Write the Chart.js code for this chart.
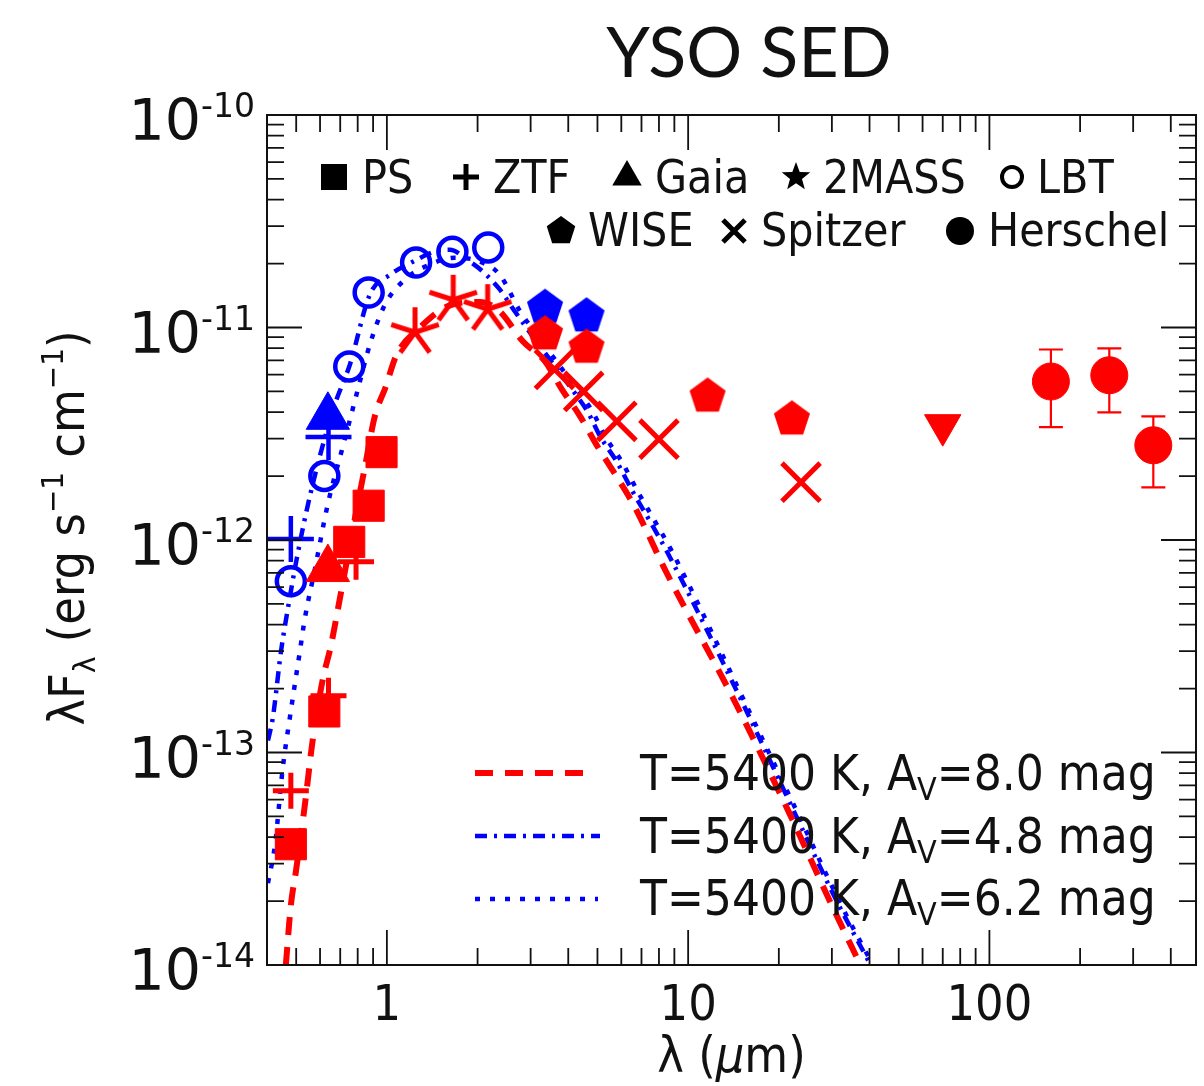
<!DOCTYPE html>
<html>
<head>
<meta charset="utf-8">
<script src="https://cdn.jsdelivr.net/npm/chart.js@4.4.0/dist/chart.umd.min.js"></script>
<style>
  html, body { margin: 0; padding: 0; background: #fff; overflow: hidden; }
  canvas { display: block; }
</style>
</head>
<body>
<canvas id="sedChart" width="1204" height="1086"></canvas>
<script>
/* ===============
   YSO SED DATA
   =============== */
// wavelengths in micron, lambda*F_lambda in erg s-1 cm-1 (as on the axis)
const psWave = [0.48, 0.62, 0.75, 0.87, 0.96];
const psFlux = [3.7e-14, 1.56e-13, 9.8e-13, 1.45e-12, 2.59e-12];

const ztfRedWave = [0.48, 0.64, 0.79];
const ztfRedFlux = [6.6e-14, 1.85e-13, 7.9e-13];
const ztfBlueWave = [0.48, 0.64];
const ztfBlueFlux = [1.01e-12, 3.05e-12];

const gaiaRedWave = [0.637];
const gaiaRedFlux = [7.3e-13];
const gaiaBlueWave = [0.637];
const gaiaBlueFlux = [3.8e-12];

const lbtWave = [0.48, 0.62, 0.75, 0.87, 1.25, 1.65, 2.17];
const lbtFlux = [6.4e-13, 2.0e-12, 6.56e-12, 1.46e-11, 2.02e-11, 2.27e-11, 2.38e-11];

const tmassWave = [1.24, 1.66, 2.16];
const tmassFlux = [9.5e-12, 1.35e-11, 1.22e-11];

const wiseRedWave = [3.35, 4.6, 11.6, 22.1];
const wiseRedFlux = [9.3e-12, 8.05e-12, 4.74e-12, 3.7e-12];
const wiseBlueWave = [3.35, 4.6];
const wiseBlueFlux = [1.24e-11, 1.13e-11];

const spitzerWave = [3.6, 4.5, 5.8, 8.0, 23.7];
const spitzerFlux = [6.35e-12, 5.0e-12, 3.62e-12, 2.98e-12, 1.87e-12];

const pacsLimitWave = [70];
const pacsLimitFlux = [3.47e-12];

const herschelWave = [160, 250, 350];
const herschelFlux = [5.57e-12, 5.96e-12, 2.79e-12];
const herschelHigh = [7.88e-12, 7.97e-12, 3.82e-12];
const herschelLow = [3.4e-12, 3.99e-12, 1.77e-12];

// photosphere models, T=5400 K
const modelAv80Wave = [0.462, 0.480, 0.499, 0.534, 0.568, 0.613, 0.652, 0.688, 0.725, 0.783, 0.845, 0.912, 0.992, 1.071, 1.287, 1.619, 2.037, 2.37, 2.83, 3.35, 3.81, 4.38, 5.02, 5.72, 6.51, 7.31, 8.26, 14.1, 21.3, 30.3, 36.7];
const modelAv80Flux = [1.0e-14, 1.91e-14, 2.76e-14, 5.64e-14, 1.16e-13, 2.22e-13, 3.18e-13, 4.74e-13, 7.08e-13, 1.26e-12, 2.20e-12, 3.82e-12, 5.28e-12, 7.31e-12, 1.0e-11, 1.27e-11, 1.32e-11, 1.19e-11, 8.59e-12, 6.92e-12, 5.11e-12, 3.82e-12, 2.73e-12, 2.04e-12, 1.51e-12, 1.09e-12, 7.55e-13, 1.80e-13, 5.46e-14, 1.85e-14, 1.05e-14];

const modelAv48Wave = [0.403, 0.418, 0.445, 0.469, 0.502, 0.546, 0.599, 0.672, 0.754, 0.878, 1.023, 1.22, 1.444, 1.619, 1.858, 2.084, 2.37, 2.66, 3.05, 3.53, 4.12, 4.65, 5.10, 5.81, 6.56, 7.48, 8.51, 14.9, 21.8, 30.8, 39.6];
const modelAv48Flux = [1.14e-13, 1.45e-13, 2.98e-13, 4.74e-13, 8.15e-13, 1.45e-12, 2.48e-12, 4.35e-12, 6.70e-12, 1.43e-11, 1.77e-11, 2.04e-11, 2.28e-11, 2.32e-11, 2.07e-11, 1.83e-11, 1.51e-11, 1.19e-11, 9.08e-12, 6.86e-12, 5.11e-12, 3.99e-12, 3.08e-12, 2.32e-12, 1.68e-12, 1.22e-12, 8.80e-13, 1.80e-13, 5.77e-14, 2.06e-14, 1.05e-14];

const modelAv62Wave = [0.403, 0.425, 0.451, 0.476, 0.514, 0.534, 0.577, 0.637, 0.725, 0.801, 0.878, 0.985, 1.148, 1.39, 1.68, 2.04, 2.37, 2.77, 3.18, 3.67, 4.28, 4.83, 5.30, 6.04, 6.82, 7.77, 8.85, 15.5, 22.7, 32.0, 40.3];
const modelAv62Flux = [2.43e-14, 3.66e-14, 8.41e-14, 1.45e-13, 2.98e-13, 4.26e-13, 7.31e-13, 1.48e-12, 2.98e-12, 5.11e-12, 8.32e-12, 1.28e-11, 1.68e-11, 1.98e-11, 2.13e-11, 2.04e-11, 1.77e-11, 1.19e-11, 9.08e-12, 6.86e-12, 5.11e-12, 3.99e-12, 3.08e-12, 2.32e-12, 1.68e-12, 1.22e-12, 8.80e-13, 1.70e-13, 5.46e-14, 1.95e-14, 1.05e-14];

const modelLabels = ['8.0', '4.8', '6.2'];

// axis ticks
const xMajorTicks = [1, 10, 100];
const xTickLabels = ['1', '10', '100'];
const yMajorTicks = [1e-14, 1e-13, 1e-12, 1e-11, 1e-10];
const yTickExps = ['-14', '-13', '-12', '-11', '-10'];

const RED = '#ff0000';
const BLUE = '#0000ff';
const INK = '#111111';

function pts(xs, ys) {
    return xs.map((x, i) => ({ x: x, y: ys[i] }));
}

/* ===============
   MARKER SHAPES
   =============== */
function drawShape(g, kind, x, y, r, color, lw) {
    g.save();
    g.fillStyle = color;
    g.strokeStyle = color;
    g.lineWidth = lw || 1;
    g.lineCap = 'butt';
    g.beginPath();
    if (kind === 'square') {
        g.rect(x - r, y - r, 2 * r, 2 * r);
        g.fill();
    } else if (kind === 'plus') {
        g.moveTo(x - r, y); g.lineTo(x + r, y);
        g.moveTo(x, y - r); g.lineTo(x, y + r);
        g.stroke();
    } else if (kind === 'x') {
        g.moveTo(x - r, y - r); g.lineTo(x + r, y + r);
        g.moveTo(x - r, y + r); g.lineTo(x + r, y - r);
        g.stroke();
    } else if (kind === 'triangle') {
        for (let i = 0; i < 3; i++) {
            const a = -Math.PI / 2 + i * 2 * Math.PI / 3;
            g.lineTo(x + r * Math.cos(a), y + r * Math.sin(a));
        }
        g.closePath(); g.fill();
    } else if (kind === 'pentagon') {
        for (let i = 0; i < 5; i++) {
            const a = -Math.PI / 2 + i * 2 * Math.PI / 5;
            g.lineTo(x + r * Math.cos(a), y + r * Math.sin(a));
        }
        g.closePath(); g.fill();
    } else if (kind === 'star') {
        for (let i = 0; i < 10; i++) {
            const a = -Math.PI / 2 + i * Math.PI / 5;
            const rr = i % 2 === 0 ? r : r * 0.42;
            g.lineTo(x + rr * Math.cos(a), y + rr * Math.sin(a));
        }
        g.closePath(); g.fill();
    } else if (kind === 'asterisk') {
        for (let i = 0; i < 5; i++) {
            const a = -Math.PI / 2 + i * 2 * Math.PI / 5;
            g.moveTo(x, y);
            g.lineTo(x + r * Math.cos(a), y + r * Math.sin(a));
        }
        g.stroke();
    } else if (kind === 'circleOpen') {
        g.arc(x, y, r, 0, Math.PI * 2);
        g.stroke();
    } else if (kind === 'circle') {
        g.arc(x, y, r, 0, Math.PI * 2);
        g.fill();
    }
    g.restore();
}

function makeMarker(kind, color, r, lw) {
    const s = Math.ceil(2 * r + 2 * (lw || 1) + 4);
    const c = document.createElement('canvas');
    c.width = s; c.height = s;
    drawShape(c.getContext('2d'), kind, s / 2, s / 2, r, color, lw);
    return c;
}

const pentRed = makeMarker('pentagon', RED, 19);
const pentBlue = makeMarker('pentagon', BLUE, 19);
const asteriskRed = makeMarker('asterisk', RED, 25, 5);

/* ===============
   TEXT HELPERS
   =============== */
const FONT_C = '"DejaVu Sans Condensed", "DejaVu Sans", sans-serif';
const FONT_N = '"DejaVu Sans", sans-serif';

// parts: [{t, s (size factor), dy (em), it}]
function richWidth(g, parts, size, family) {
    let w = 0;
    parts.forEach(p => {
        g.font = (p.it ? 'italic ' : '') + Math.round(size * (p.s || 1)) + 'px ' + family;
        w += g.measureText(p.t).width;
    });
    return w;
}
function drawRich(g, parts, x, y, size, family) {
    let cx = x;
    parts.forEach(p => {
        g.font = (p.it ? 'italic ' : '') + Math.round(size * (p.s || 1)) + 'px ' + family;
        g.fillText(p.t, cx, y + (p.dy || 0) * size);
        cx += g.measureText(p.t).width;
    });
    return cx - x;
}

/* ===============
   PLUGINS
   =============== */
const errorBars = {
    id: 'errorBars',
    beforeDatasetsDraw(chart) {
        const g = chart.ctx;
        const xs = chart.scales.x, ys = chart.scales.y;
        g.save();
        g.strokeStyle = RED;
        g.lineWidth = 2.2;
        herschelWave.forEach((w, i) => {
            const px = xs.getPixelForValue(w);
            const top = ys.getPixelForValue(herschelHigh[i]);
            const bot = ys.getPixelForValue(herschelLow[i]);
            g.beginPath();
            g.moveTo(px, top); g.lineTo(px, bot);
            g.moveTo(px - 12, top); g.lineTo(px + 12, top);
            g.moveTo(px - 12, bot); g.lineTo(px + 12, bot);
            g.stroke();
        });
        g.restore();
    }
};

const frame = {
    id: 'frame',
    afterDraw(chart) {
        const g = chart.ctx;
        const a = chart.chartArea;
        const xs = chart.scales.x, ys = chart.scales.y;
        g.save();

        // box
        g.strokeStyle = INK;
        g.lineWidth = 2;
        g.strokeRect(a.left, a.top, a.right - a.left, a.bottom - a.top);

        // inward ticks on all four sides
        const MAJ = 35, MIN = 17;
        g.lineWidth = 1.8;
        g.beginPath();
        const xDec = [0.1, 1, 10, 100];
        xDec.forEach(d => {
            for (let k = 1; k <= 9; k++) {
                const v = d * k;
                if (v < xs.min || v > xs.max) continue;
                const px = xs.getPixelForValue(v);
                const len = k === 1 ? MAJ : MIN;
                g.moveTo(px, a.bottom); g.lineTo(px, a.bottom - len);
                g.moveTo(px, a.top); g.lineTo(px, a.top + len);
            }
        });
        yMajorTicks.forEach(d => {
            for (let k = 1; k <= 9; k++) {
                const v = d * k;
                if (v > ys.max * 1.0001) continue;
                const py = ys.getPixelForValue(v);
                const len = k === 1 ? MAJ : MIN;
                g.moveTo(a.left, py); g.lineTo(a.left + len, py);
                g.moveTo(a.right, py); g.lineTo(a.right - len, py);
            }
        });
        g.stroke();

        g.fillStyle = INK;
        // x tick labels
        g.textAlign = 'center';
        g.textBaseline = 'alphabetic';
        g.font = '50px ' + FONT_C;
        xMajorTicks.forEach((v, i) => {
            g.fillText(xTickLabels[i], xs.getPixelForValue(v), 1020);
        });

        // y tick labels 10^n
        g.textAlign = 'left';
        yMajorTicks.forEach((v, i) => {
            const py = ys.getPixelForValue(v);
            const parts = [{ t: '10', s: 1, dy: 0 }, { t: yTickExps[i], s: 0.58, dy: -0.4 }];
            const w = richWidth(g, parts, 57, FONT_N);
            drawRich(g, parts, a.left - 12 - w, py + 25, 57, FONT_N);
        });

        // axis titles
        const xt = [{ t: 'λ (', s: 1 }, { t: 'μ', s: 1, it: true }, { t: 'm)', s: 1 }];
        const xw = richWidth(g, xt, 50, FONT_C);
        drawRich(g, xt, (a.left + a.right) / 2 - xw / 2, 1072, 50, FONT_C);

        const yt = [
            { t: 'λF', s: 1 }, { t: 'λ', s: 0.62, dy: 0.22 },
            { t: ' (erg s', s: 1 }, { t: '−1', s: 0.62, dy: -0.42 },
            { t: ' cm', s: 1 }, { t: '−1', s: 0.62, dy: -0.42 }, { t: ')', s: 1 }
        ];
        g.save();
        g.translate(84, 528);
        g.rotate(-Math.PI / 2);
        const yw = richWidth(g, yt, 50, FONT_C);
        drawRich(g, yt, -yw / 2, 0, 50, FONT_C);
        g.restore();

        // title
        g.textAlign = 'center';
        g.font = '70px Lato, "Open Sans", sans-serif';
        g.fillText('YSO SED', 749, 77);

        // instrument legend (black symbols)
        g.textAlign = 'left';
        const legRows = [
            { y: 177, base: 193, items: [
                ['square', 334, 13, 0, 'PS', 362],
                ['plus', 466, 13, 5, 'ZTF', 493],
                ['triangle', 627, 17, 0, 'Gaia', 655],
                ['star', 796, 15, 0, '2MASS', 823],
                ['circleOpen', 1012, 10, 4, 'LBT', 1037]] },
            { y: 231, base: 246, items: [
                ['pentagon', 561, 15, 0, 'WISE', 588],
                ['x', 734, 11, 5, 'Spitzer', 761],
                ['circle', 960, 14, 0, 'Herschel', 988]] }
        ];
        legRows.forEach(row => {
            row.items.forEach(it => {
                drawShape(g, it[0], it[1], row.y, it[2], '#000', it[3]);
                g.fillStyle = INK;
                g.font = '46px ' + FONT_C;
                g.fillText(it[4], it[5], row.base);
            });
        });

        // model legend
        const lineRows = [
            { y: 773, base: 790, color: RED, lw: 6, dash: [18, 12], x1: 592 },
            { y: 836, base: 853, color: BLUE, lw: 4.5, dash: [12, 7, 3, 7], x1: 600 },
            { y: 899, base: 915, color: BLUE, lw: 4.5, dash: [5, 10], x1: 598 }
        ];
        lineRows.forEach((r, i) => {
            g.save();
            g.strokeStyle = r.color;
            g.lineWidth = r.lw;
            g.setLineDash(r.dash);
            g.beginPath();
            g.moveTo(475, r.y); g.lineTo(r.x1, r.y);
            g.stroke();
            g.restore();
            g.fillStyle = INK;
            drawRich(g, [
                { t: 'T=5400 K, A', s: 1 }, { t: 'V', s: 0.66, dy: 0.2 },
                { t: '=' + modelLabels[i] + ' mag', s: 1 }
            ], 640, r.base, 49, FONT_C);
        });

        g.restore();
    }
};

/* ===============
   CHART
   =============== */
function markerSet(label, xs, ys, style, radius, color, extra) {
    return Object.assign({
        label: label,
        data: pts(xs, ys),
        showLine: false,
        pointStyle: style,
        pointRadius: radius,
        pointHoverRadius: radius,
        backgroundColor: color,
        borderColor: color,
        pointBorderWidth: 1,
        order: 0
    }, extra || {});
}

function modelSet(label, xs, ys, color, width, dash) {
    return {
        label: label,
        data: pts(xs, ys),
        showLine: true,
        borderColor: color,
        borderWidth: width,
        borderDash: dash,
        pointRadius: 0,
        fill: false,
        cubicInterpolationMode: 'monotone',
        order: 1
    };
}

const ctx = document.getElementById('sedChart').getContext('2d');
const sedChart = new Chart(ctx, {
    type: 'scatter',
    data: {
        datasets: [
            markerSet('Herschel', herschelWave, herschelFlux, 'circle', 18.5, RED),
            markerSet('PACS limit', pacsLimitWave, pacsLimitFlux, 'triangle', 21, RED, { pointRotation: 180 }),
            markerSet('Spitzer', spitzerWave, spitzerFlux, 'crossRot', 27, RED, { pointBorderWidth: 5 }),
            markerSet('WISE', wiseRedWave, wiseRedFlux, pentRed, 19, RED),
            markerSet('WISE blue', wiseBlueWave, wiseBlueFlux, pentBlue, 19, BLUE),
            markerSet('2MASS', tmassWave, tmassFlux, asteriskRed, 25, RED),
            markerSet('PS', psWave, psFlux, 'rect', 22, RED),
            markerSet('ZTF', ztfRedWave, ztfRedFlux, 'cross', 18, RED, { pointBorderWidth: 5 }),
            markerSet('Gaia', gaiaRedWave, gaiaRedFlux, 'triangle', 25, RED),
            markerSet('LBT', lbtWave, lbtFlux, 'circle', 14, BLUE, { backgroundColor: 'rgba(0,0,0,0)', pointBorderWidth: 4.5 }),
            markerSet('Gaia blue', gaiaBlueWave, gaiaBlueFlux, 'triangle', 25, BLUE),
            markerSet('ZTF blue', ztfBlueWave, ztfBlueFlux, 'cross', 23, BLUE, { pointBorderWidth: 4.5 }),
            modelSet('Av=8.0', modelAv80Wave, modelAv80Flux, RED, 6, [18, 12]),
            modelSet('Av=4.8', modelAv48Wave, modelAv48Flux, BLUE, 4.5, [12, 7, 3, 7]),
            modelSet('Av=6.2', modelAv62Wave, modelAv62Flux, BLUE, 4.5, [5, 10])
        ]
    },
    options: {
        responsive: false,
        animation: false,
        layout: { autoPadding: false, padding: { left: 267, right: 8, top: 115, bottom: 121 } },
        plugins: {
            legend: { display: false },
            tooltip: { enabled: false }
        },
        scales: {
            x: { type: 'logarithmic', min: 0.4, max: 485, display: false },
            y: { type: 'logarithmic', min: 1e-14, max: 1e-10, display: false }
        }
    },
    plugins: [errorBars, frame]
});
</script>
</body>
</html>
